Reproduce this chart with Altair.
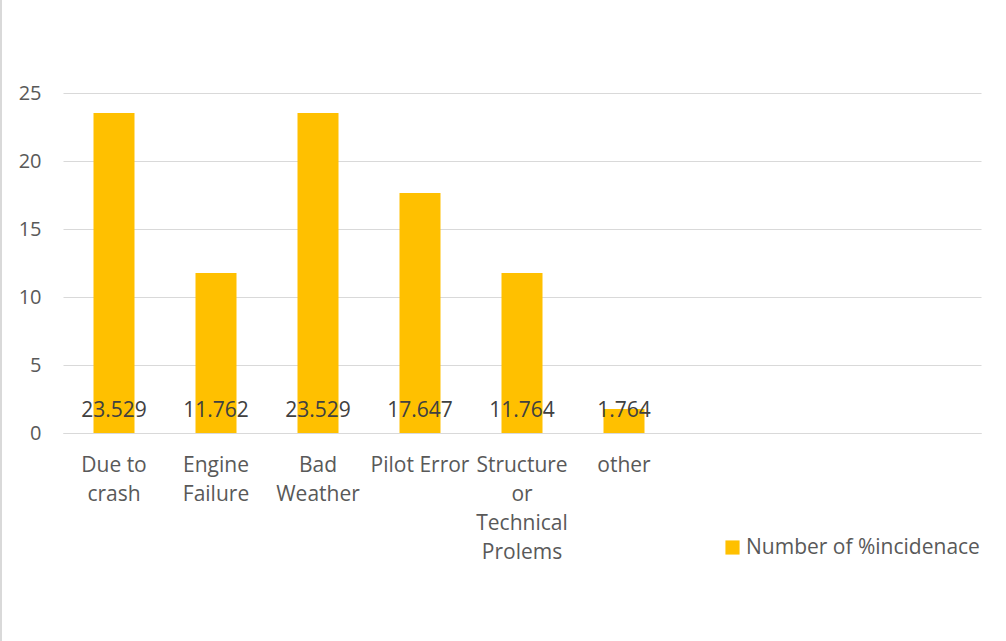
import altair as alt
import pandas as pd

categories = ["Due to|crash", "Engine|Failure", "Bad|Weather", "Pilot Error",
              "Structure|or|Technical|Prolems", "other"]
blank_slots = [" ", "  ", "   "]
values = [23.529, 11.762, 23.529, 17.647, 11.764, 1.764]
value_labels = ["23.529", "11.762", "23.529", "17.647", "11.764", "1.764"]
series_name = "Number of %incidenace"

df = pd.DataFrame({
    "cat": categories,
    "val": values,
    "lab": value_labels,
    "series": [series_name] * len(categories),
})

domain = categories + blank_slots
FONT = "Open Sans"
GRAY = "#595959"

x = alt.X("cat:N", sort=domain, scale=alt.Scale(domain=domain, paddingInner=0, paddingOuter=0),
          axis=alt.Axis(title=None, labelAngle=0, labelExpr="split(datum.label, '|')",
                        labelFontSize=21, labelFont=FONT, labelColor=GRAY,
                        labelLineHeight=29, labelPadding=21, ticks=False,
                        domainColor="#d9d9d9", domainWidth=1, labelBaseline="top"))

bars = alt.Chart(df).mark_bar(size=41).encode(
    x=x,
    y=alt.Y("val:Q", scale=alt.Scale(domain=[0, 25], nice=False),
            axis=alt.Axis(title=None, values=[0, 5, 10, 15, 20, 25], grid=True,
                          gridColor="#d9d9d9", domain=False, ticks=False,
                          labelFontSize=20, labelFont=FONT, labelColor=GRAY,
                          labelPadding=22)),
    color=alt.Color("series:N", scale=alt.Scale(range=["#FFC000"]),
                    legend=alt.Legend(title=None, orient="none", legendX=659, legendY=444,
                                      symbolType="square", symbolSize=200,
                                      labelFontSize=21, labelFont=FONT, labelColor=GRAY,
                                      symbolStrokeWidth=0, labelOffset=3,
                                      labelLimit=400)),
)

labels = alt.Chart(df).mark_text(fontSize=21, font=FONT, color="#404040",
                                 baseline="alphabetic", dy=-16).encode(
    x=alt.X("cat:N", sort=domain),
    y=alt.datum(0),
    text="lab:N",
)

border = alt.Chart(df).mark_rule(color="#d9d9d9", strokeWidth=2).encode(
    x=alt.value(-62), y=alt.value(-93), y2=alt.value(548)
)

chart = alt.layer(bars, labels, border).properties(
    width=918, height=340,
    autosize=alt.AutoSizeParams(type="none"),
    padding={"left": 63, "top": 93, "right": 25, "bottom": 208},
).configure_view(stroke=None)

chart.save("out.html", embed_options={"renderer": "svg", "actions": False})
